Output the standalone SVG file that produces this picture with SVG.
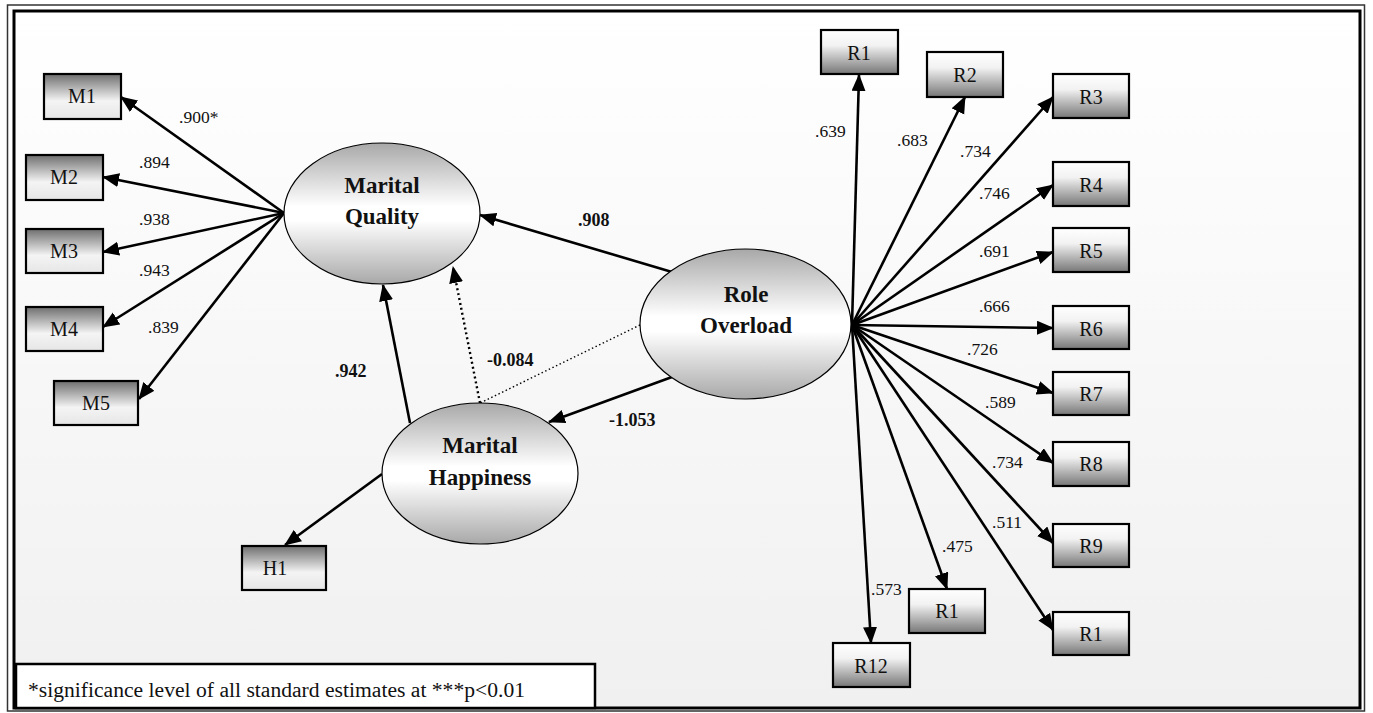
<svg xmlns="http://www.w3.org/2000/svg" width="1373" height="713" viewBox="0 0 1373 713" font-family="Liberation Serif, Times New Roman, serif">
<style>
.lbl{font-size:17.5px;fill:#111}
.blbl{font-size:18px;font-weight:bold;fill:#111}
.box text{font-size:20px;fill:#111;text-anchor:middle}
.ell text{font-size:23px;font-weight:bold;fill:#111;text-anchor:middle}
.mbox{fill:url(#gM);stroke:#000;stroke-width:2.2}
.rbox{fill:url(#gR);stroke:#000;stroke-width:2.2}
.ell ellipse{fill:url(#gE);stroke:#000;stroke-width:1.2}
.edge{stroke:#000;stroke-width:2.6;fill:none}
.dot1{stroke:#000;stroke-width:2.4;fill:none;stroke-dasharray:2 3}
.dot2{stroke:#000;stroke-width:1.4;fill:none;stroke-dasharray:1.5 2.5}
</style>
<defs>
<linearGradient id="gBg" x1="0" y1="0" x2="0" y2="1">
<stop offset="0" stop-color="#ffffff"/><stop offset="1" stop-color="#f0f0f0"/>
</linearGradient>
<linearGradient id="gM" x1="0" y1="0" x2="0" y2="1">
<stop offset="0" stop-color="#6e6e6e"/><stop offset="0.6" stop-color="#f4f4f4"/><stop offset="1" stop-color="#e6e6e6"/>
</linearGradient>
<linearGradient id="gR" x1="0" y1="0" x2="0" y2="1">
<stop offset="0" stop-color="#ffffff"/><stop offset="0.35" stop-color="#f2f2f2"/><stop offset="1" stop-color="#777777"/>
</linearGradient>
<linearGradient id="gE" x1="0" y1="0" x2="0" y2="1">
<stop offset="0" stop-color="#a8a8a8"/><stop offset="0.45" stop-color="#ffffff"/><stop offset="0.55" stop-color="#ffffff"/><stop offset="1" stop-color="#a8a8a8"/>
</linearGradient>
<marker id="ah" markerUnits="userSpaceOnUse" markerWidth="19" markerHeight="15" refX="16" refY="7" orient="auto">
<path d="M0,0 L17,7 L0,14 z" fill="#000"/>
</marker>
</defs>

<rect x="7.5" y="5" width="1357" height="706" fill="none" stroke="#333" stroke-width="1.5"/>
<rect x="14" y="11" width="1346" height="697" fill="url(#gBg)" stroke="#000" stroke-width="3"/>

<g id="connectors">
<line class="edge" x1="284" y1="213" x2="121" y2="97" marker-end="url(#ah)"/>
<line class="edge" x1="284" y1="213" x2="103" y2="177" marker-end="url(#ah)"/>
<line class="edge" x1="284" y1="213" x2="103" y2="252" marker-end="url(#ah)"/>
<line class="edge" x1="284" y1="213" x2="103" y2="327" marker-end="url(#ah)"/>
<line class="edge" x1="284" y1="213" x2="139" y2="399" marker-end="url(#ah)"/>
<line class="edge" x1="382" y1="474" x2="285" y2="545" marker-end="url(#ah)"/>
<line class="edge" x1="410" y1="423" x2="383" y2="285" marker-end="url(#ah)"/>
<line class="dot1" x1="480" y1="403" x2="453" y2="267" marker-end="url(#ah)"/>
<line class="dot2" x1="640" y1="325" x2="480" y2="403"/>
<line class="edge" x1="672" y1="272" x2="480" y2="215" marker-end="url(#ah)"/>
<line class="edge" x1="672" y1="377" x2="549" y2="422" marker-end="url(#ah)"/>
<line class="edge" x1="852" y1="325" x2="859" y2="75" marker-end="url(#ah)"/>
<line class="edge" x1="852" y1="325" x2="965" y2="97" marker-end="url(#ah)"/>
<line class="edge" x1="852" y1="325" x2="1053" y2="97" marker-end="url(#ah)"/>
<line class="edge" x1="852" y1="325" x2="1053" y2="185" marker-end="url(#ah)"/>
<line class="edge" x1="852" y1="325" x2="1053" y2="252" marker-end="url(#ah)"/>
<line class="edge" x1="852" y1="325" x2="1053" y2="328" marker-end="url(#ah)"/>
<line class="edge" x1="852" y1="325" x2="1053" y2="393" marker-end="url(#ah)"/>
<line class="edge" x1="852" y1="325" x2="1053" y2="463" marker-end="url(#ah)"/>
<line class="edge" x1="852" y1="325" x2="1053" y2="543" marker-end="url(#ah)"/>
<line class="edge" x1="852" y1="325" x2="1053" y2="630" marker-end="url(#ah)"/>
<line class="edge" x1="852" y1="325" x2="947" y2="589" marker-end="url(#ah)"/>
<line class="edge" x1="852" y1="325" x2="871" y2="643" marker-end="url(#ah)"/>
</g>

<g id="edge-labels">
<text class="lbl" x="179" y="123">.900*</text>
<text class="lbl" x="139" y="168">.894</text>
<text class="lbl" x="139" y="225">.938</text>
<text class="lbl" x="139" y="276">.943</text>
<text class="lbl" x="148" y="333">.839</text>
<text class="blbl" x="578" y="226">.908</text>
<text class="blbl" x="335" y="377">.942</text>
<text class="blbl" x="487" y="366">-0.084</text>
<text class="blbl" x="609" y="426">-1.053</text>
<text class="lbl" x="815" y="137">.639</text>
<text class="lbl" x="897" y="146">.683</text>
<text class="lbl" x="960" y="157">.734</text>
<text class="lbl" x="979" y="199">.746</text>
<text class="lbl" x="979" y="257">.691</text>
<text class="lbl" x="979" y="312">.666</text>
<text class="lbl" x="967" y="355">.726</text>
<text class="lbl" x="985" y="408">.589</text>
<text class="lbl" x="992" y="468">.734</text>
<text class="lbl" x="992" y="528">.511</text>
<text class="lbl" x="942" y="552">.475</text>
<text class="lbl" x="871" y="595">.573</text>
</g>

<g id="MQ" class="ell"><ellipse cx="382" cy="213.5" rx="98" ry="70.5"/><text x="382" y="193">Marital</text><text x="382" y="224">Quality</text></g>
<g id="MH" class="ell"><ellipse cx="480" cy="473.5" rx="98" ry="70.5"/><text x="480" y="453">Marital</text><text x="480" y="485">Happiness</text></g>
<g id="RO" class="ell"><ellipse cx="745.5" cy="324" rx="105.5" ry="75"/><text x="746" y="302">Role</text><text x="746" y="333">Overload</text></g>

<g id="M1" class="box"><rect class="mbox" x="44" y="74" width="77" height="45"/><text x="82" y="103">M1</text></g>
<g id="M2" class="box"><rect class="mbox" x="26" y="155" width="77" height="45"/><text x="64" y="184">M2</text></g>
<g id="M3" class="box"><rect class="mbox" x="26" y="229" width="77" height="44"/><text x="64" y="258">M3</text></g>
<g id="M4" class="box"><rect class="mbox" x="26" y="307" width="77" height="44"/><text x="64" y="336">M4</text></g>
<g id="M5" class="box"><rect class="mbox" x="54" y="381" width="84" height="44"/><text x="96" y="410">M5</text></g>
<g id="H1" class="box"><rect class="mbox" x="242" y="546" width="84" height="44"/><text x="275" y="575">H1</text></g>

<g id="R1" class="box"><rect class="rbox" x="821" y="30" width="77" height="44"/><text x="859" y="60">R1</text></g>
<g id="R2" class="box"><rect class="rbox" x="927" y="52" width="76" height="45"/><text x="965" y="82">R2</text></g>
<g id="R3" class="box"><rect class="rbox" x="1053" y="74" width="76" height="44"/><text x="1091" y="104">R3</text></g>
<g id="R4" class="box"><rect class="rbox" x="1053" y="162" width="76" height="44"/><text x="1091" y="192">R4</text></g>
<g id="R5" class="box"><rect class="rbox" x="1053" y="228" width="76" height="44"/><text x="1091" y="258">R5</text></g>
<g id="R6" class="box"><rect class="rbox" x="1053" y="306" width="76" height="43"/><text x="1091" y="336">R6</text></g>
<g id="R7" class="box"><rect class="rbox" x="1053" y="372" width="76" height="43"/><text x="1091" y="401">R7</text></g>
<g id="R8" class="box"><rect class="rbox" x="1053" y="442" width="76" height="44"/><text x="1091" y="471">R8</text></g>
<g id="R9" class="box"><rect class="rbox" x="1053" y="524" width="76" height="43"/><text x="1091" y="553">R9</text></g>
<g id="R10" class="box"><rect class="rbox" x="1053" y="612" width="76" height="43"/><text x="1091" y="641">R1</text></g>
<g id="R11" class="box"><rect class="rbox" x="909" y="589" width="76" height="44"/><text x="947" y="618">R1</text></g>
<g id="R12" class="box"><rect class="rbox" x="833" y="643" width="77" height="44"/><text x="871" y="673">R12</text></g>

<g id="legend">
<rect x="16" y="664" width="579" height="44" fill="#fff" stroke="#000" stroke-width="2.5"/>
<text x="28" y="697" font-size="20" fill="#111" textLength="497" lengthAdjust="spacingAndGlyphs">*significance level of all standard estimates at ***p&lt;0.01</text>
</g>
</svg>
